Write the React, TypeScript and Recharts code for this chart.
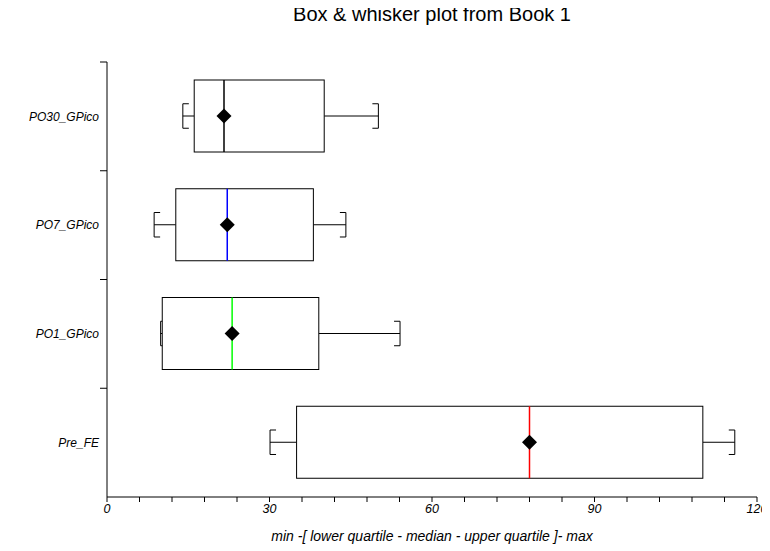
import { ComposedChart, Bar, XAxis, YAxis } from 'recharts';

// Box & whisker summary (one entry per group, top to bottom)
const categories = ['PO30_GPico', 'PO7_GPico', 'PO1_GPico', 'Pre_FE'];
const minValues = [14.0, 8.7, 9.9, 30.1];
const lowerQuartiles = [16.1, 12.7, 10.2, 35.0];
const medians = [21.6, 22.2, 23.1, 78.0];
const upperQuartiles = [40.1, 38.1, 39.1, 110.0];
const maxValues = [50.1, 44.1, 54.1, 115.9];
const means = [21.6, 22.2, 23.1, 78.0];

const xTicks = [0, 6, 12, 18, 24, 30, 36, 42, 48, 54, 60, 66, 72, 78, 84, 90, 96, 102, 108, 114, 120];
const xLabelEvery = 30;

const MEDIAN_COLORS = ['#000000', '#0000ff', '#00ff00', '#ff0000'];
const FONT = '"Liberation Sans", Arial, sans-serif';

const rows = categories.map((name, i) => ({
  name,
  min: minValues[i],
  q1: lowerQuartiles[i],
  median: medians[i],
  q3: upperQuartiles[i],
  max: maxValues[i],
  mean: means[i],
}));

function BoxShape(props: any) {
  const { x, y, width, height, payload, index } = props;
  const lo = payload.min;
  const hi = payload.max;
  // place the other stats on the bar's own scale (bar spans min..max)
  const px = (v: number) => x + ((v - lo) / (hi - lo)) * width;
  const cy = y + height / 2;
  const cap = height * 0.17;
  const flange = 6;
  const xMin = px(payload.min);
  const xQ1 = px(payload.q1);
  const xMed = px(payload.median);
  const xQ3 = px(payload.q3);
  const xMax = px(payload.max);
  const xMean = px(payload.mean);
  const d = 7.5;

  return (
    <g>
      {/* whiskers */}
      <line x1={xMin} y1={cy} x2={xQ1} y2={cy} stroke="#000" />
      <line x1={xQ3} y1={cy} x2={xMax} y2={cy} stroke="#000" />
      {/* [ cap */}
      <polyline
        points={`${xMin + flange},${cy - cap} ${xMin},${cy - cap} ${xMin},${cy + cap} ${xMin + flange},${cy + cap}`}
        fill="none"
        stroke="#000"
      />
      {/* ] cap */}
      <polyline
        points={`${xMax - flange},${cy - cap} ${xMax},${cy - cap} ${xMax},${cy + cap} ${xMax - flange},${cy + cap}`}
        fill="none"
        stroke="#000"
      />
      {/* box */}
      <rect x={xQ1} y={y} width={xQ3 - xQ1} height={height} fill="#fff" stroke="#000" />
      {/* median */}
      <line x1={xMed} y1={y} x2={xMed} y2={y + height} stroke={MEDIAN_COLORS[index]} strokeWidth={1.5} />
      {/* mean */}
      <polygon
        points={`${xMean},${cy - d} ${xMean + d},${cy} ${xMean},${cy + d} ${xMean - d},${cy}`}
        fill="#000"
      />
    </g>
  );
}

function XTick(props: any) {
  const { x, y, payload } = props;
  if (payload.value % xLabelEvery !== 0) return null;
  return (
    <text
      x={x}
      y={y}
      dy="0.71em"
      textAnchor="middle"
      fontFamily={FONT}
      fontSize={12.5}
      fontStyle="italic"
      fill="#000"
    >
      {payload.value}
    </text>
  );
}

// category label plus a tick mark on the upper edge of its band
function YTick(props: any) {
  const { x, y, payload } = props;
  const edge = y - (payload.offset || 0);
  return (
    <g>
      <line x1={x - 7} y1={edge} x2={x} y2={edge} stroke="#000" />
      <text
        x={x - 8}
        y={y}
        dy="0.355em"
        textAnchor="end"
        fontFamily={FONT}
        fontSize={12}
        fontStyle="italic"
        fill="#000"
      >
        {payload.value}
      </text>
    </g>
  );
}

export default function App() {
  return (
    <div style={{ position: 'relative', margin: '-8px 0 0 -8px', width: 770, height: 551, background: '#fff' }}>
      <ComposedChart
        width={770}
        height={551}
        layout="vertical"
        data={rows}
        margin={{ top: 0, right: 13, left: 0, bottom: 0 }}
      >
        {/* top axis only carries the chart title */}
        <XAxis
          xAxisId="title"
          orientation="top"
          type="number"
          domain={[0, 120]}
          height={62}
          tick={false}
          tickLine={false}
          axisLine={false}
          label={{
            value: 'Box & whisker plot from Book 1',
            position: 'insideTop',
            offset: 7,
            style: { fontFamily: FONT, fontSize: 20, fill: '#000' },
          }}
        />
        <XAxis
          type="number"
          domain={[0, 120]}
          ticks={xTicks}
          interval={0}
          height={54}
          tick={<XTick />}
          tickSize={5}
          tickLine={{ stroke: '#000' }}
          axisLine={{ stroke: '#000' }}
          label={{
            value: 'min -[ lower quartile - median - upper quartile ]- max',
            position: 'insideBottom',
            offset: 10,
            style: { fontFamily: FONT, fontSize: 14, fontStyle: 'italic', fill: '#000' },
          }}
        />
        <YAxis
          type="category"
          dataKey="name"
          width={107}
          tickLine={false}
          tickSize={0}
          tickMargin={0}
          axisLine={{ stroke: '#000' }}
          tick={<YTick />}
        />
        <Bar
          dataKey={(d: any) => [d.min, d.max]}
          barSize={72}
          shape={<BoxShape />}
          isAnimationActive={false}
        />
      </ComposedChart>
    </div>
  );
}
